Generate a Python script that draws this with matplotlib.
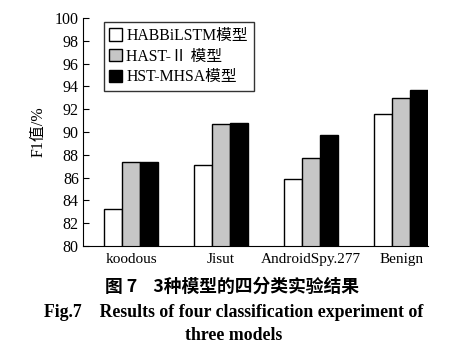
import numpy as np
import matplotlib.pyplot as plt

# %% Dados
categories = ["koodous", "Jisut", "AndroidSpy.277", "Benign"]
habbilstm = [83.2, 87.1, 85.9, 91.6]
hast2 = [87.4, 90.7, 87.7, 93.0]
hst_mhsa = [87.4, 90.75, 89.7, 93.7]
series_labels = ["HABBiLSTM模型", "HAST-Ⅱ 模型", "HST-MHSA模型"]
yticks = list(range(80, 101, 2))

# %% Fontes
serif = ["Liberation Serif", "Noto Sans CJK SC", "DejaVu Sans"]
cjk = ["Noto Sans CJK SC", "DejaVu Sans"]
plt.rcParams["font.family"] = serif

# %% Grafico
fig = plt.figure(figsize=(4.69, 3.58), dpi=100)
ax = fig.add_axes([0.177, 0.313, 0.736, 0.637])

x = np.arange(len(categories))
w = 0.2
colors = ["white", "#c6c6c6", "black"]
for i, (vals, lab) in enumerate(zip([habbilstm, hast2, hst_mhsa], series_labels)):
    ax.bar(x + (i - 1) * w, vals, w, color=colors[i], edgecolor="black",
           linewidth=1.0, label=lab)

ax.set_ylim(80, 100)
ax.set_xlim(-0.533, 3.3)
ax.set_yticks(yticks)
ax.set_xticks(x)
ax.set_xticklabels(categories, fontsize=11)
ax.tick_params(axis="y", direction="in", length=4, labelsize=11.5, pad=3)
ax.tick_params(axis="x", length=0, pad=5)
for s in ["top", "right"]:
    ax.spines[s].set_visible(False)
ax.set_ylabel("F1值/%", fontsize=11.5, family=serif, labelpad=6)

leg = ax.legend(loc="upper left", bbox_to_anchor=(0.06, 0.98), fontsize=11.3,
                frameon=True, fancybox=False, edgecolor="black",
                handlelength=0.8, handleheight=0.8, handletextpad=0.3,
                borderpad=0.35, labelspacing=0.3, borderaxespad=0)
leg.get_frame().set_linewidth(1.0)

# %% Legendas da figura
fig.text(0.495, 0.198, "图 7    3种模型的四分类实验结果", ha="center", va="center",
         fontsize=12.8, fontweight="bold", family=cjk)
fig.text(0.498, 0.128, "Fig.7    Results of four classification experiment of",
         ha="center", va="center", fontsize=12.8, fontweight="bold", family=serif)
fig.text(0.498, 0.062, "three models", ha="center", va="center",
         fontsize=12.8, fontweight="bold", family=serif)

fig.savefig("out.png", dpi=100)
